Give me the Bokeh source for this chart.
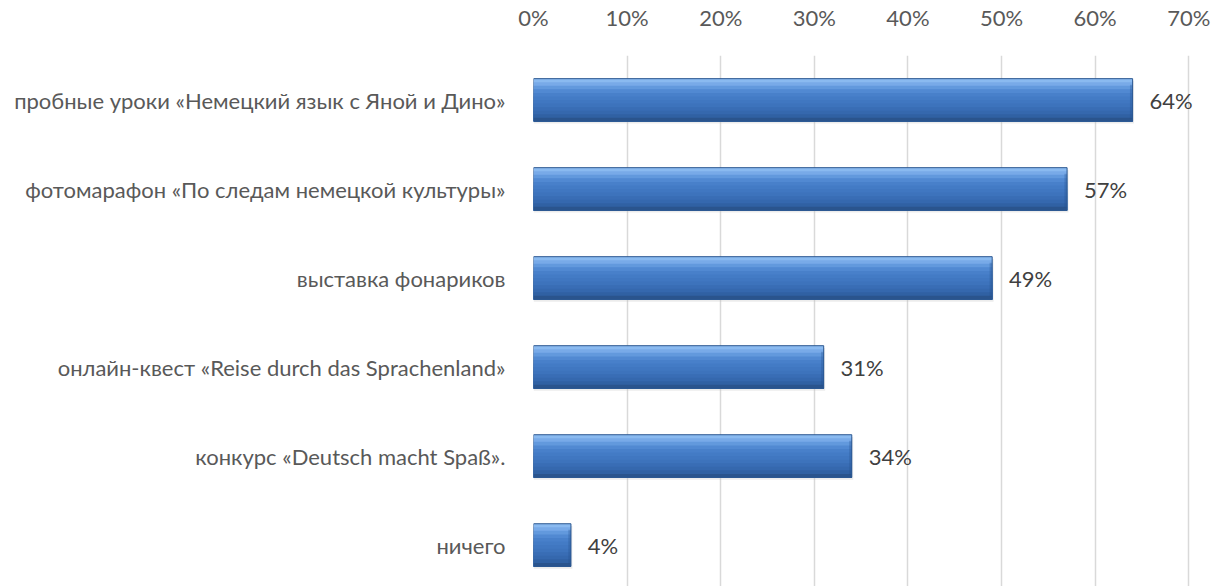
from bokeh.plotting import figure
from bokeh.models import ColumnDataSource, Range1d, FixedTicker
from bokeh.transform import dodge
from bokeh.embed import file_html
from bokeh.resources import INLINE
from bokeh.core.properties import value

categories = [
    "пробные уроки «Немецкий язык с Яной и Дино»",
    "фотомарафон «По следам немецкой культуры»",
    "выставка фонариков",
    "онлайн-квест «Reise durch das Sprachenland»",
    "конкурс «Deutsch macht Spaß».",
    "ничего",
]
values = [64, 57, 49, 31, 34, 4]
x_ticks = [0, 10, 20, 30, 40, 50, 60, 70]

n = len(categories)
pos = [n - 1 - i for i in range(n)]
labels = [f"{v}%" for v in values]

FONT = "Lato"
FS = "22px"
src = ColumnDataSource(dict(y=pos, v=values, lab=labels, zero=[0] * n))

# x range extends slightly past 70% so that value labels are not clipped
p = figure(width=1224, height=586, output_backend="svg", toolbar_location=None,
           x_range=Range1d(0, 72), y_range=Range1d(-0.465, n - 0.5),
           x_axis_location="above", min_border_left=533, min_border_right=17,
           min_border_top=55, min_border_bottom=0)
p.outline_line_color = None
p.background_fill_color = "white"

xa = p.xaxis[0]
xa.ticker = FixedTicker(ticks=x_ticks)
xa.major_label_overrides = {t: f"{t}%" for t in x_ticks}
xa.axis_line_color = None
xa.major_tick_line_color = None
xa.minor_tick_line_color = None
xa.major_label_standoff = 19
xa.major_label_text_font = FONT
xa.major_label_text_font_size = FS
xa.major_label_text_color = "#595959"

ya = p.yaxis[0]
ya.ticker = FixedTicker(ticks=pos)
ya.major_label_overrides = {pp: c for pp, c in zip(pos, categories)}
ya.axis_line_color = None
ya.major_tick_line_color = None
ya.minor_tick_line_color = None
ya.major_label_standoff = 22
ya.major_label_text_font = FONT
ya.major_label_text_font_size = FS
ya.major_label_text_color = "#595959"

p.xgrid.ticker = FixedTicker(ticks=x_ticks)
p.xgrid.grid_line_color = "#d9d9d9"
p.xgrid.grid_line_width = 1.5
p.ygrid.grid_line_color = None

H = 0.48
p.hbar(y=dodge("y", -0.025, range=p.y_range), left="zero", right=dodge("v", 0.15, range=p.x_range),
       height=H, source=src, fill_color="#bfbfbf", fill_alpha=0.3, line_color=None)

stops = ["#8abaf0", "#78aae8", "#6299dd", "#5189d2", "#4880ca", "#437bc5",
         "#4077c1", "#3d73bc", "#396db5", "#3568ae", "#3061a3", "#2a548d"]
k = len(stops)
sh = H / k
for i, c in enumerate(stops):
    hh = H - i * sh
    p.hbar(y=dodge("y", -i * sh / 2, range=p.y_range), left="zero", right="v", height=hh,
           source=src, fill_color=c, line_color=None)

p.hbar(y=dodge("y", -0.02, range=p.y_range), left=dodge("v", -0.28, range=p.x_range), right="v",
       height=H * 0.8, source=src, fill_color="#24508a", fill_alpha=0.3, line_color=None)
p.hbar(y="y", left="zero", right="v", height=H, source=src, fill_color=None,
       line_color="#2c5891", line_width=1)

p.text(x=dodge("v", 1.8, range=p.x_range), y="y", text="lab", source=src,
       text_font=value(FONT), text_font_size=FS, text_color="#404040",
       text_baseline="middle", text_align="left")

open("out.html", "w").write(file_html(p, INLINE))
